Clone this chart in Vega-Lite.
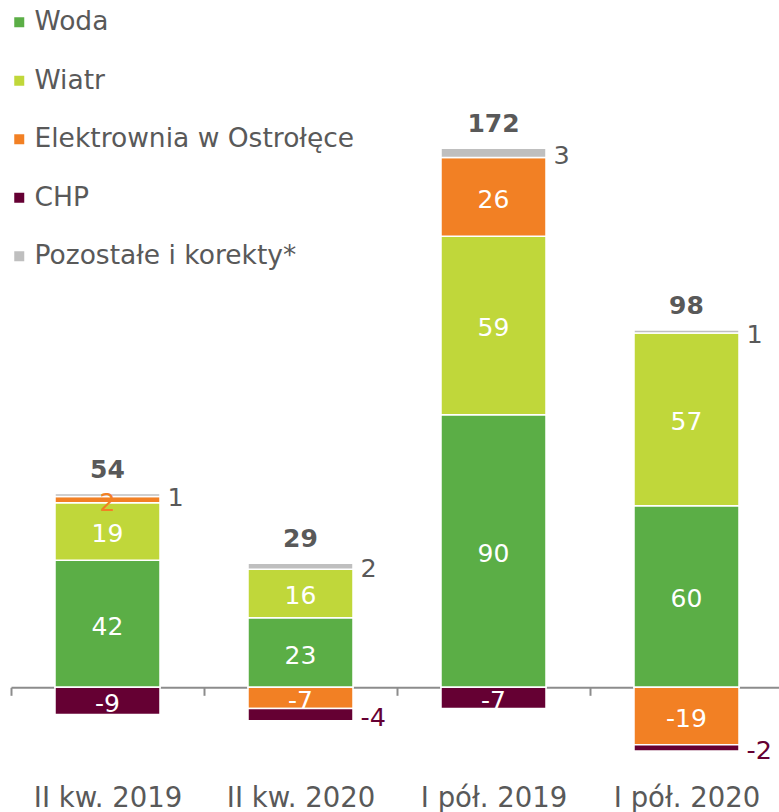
{
  "$schema": "https://vega.github.io/schema/vega-lite/v6.json",
  "autosize": {"type": "none"},
  "padding": {"left": 11, "top": 0, "right": 0, "bottom": 52},
  "width": 772,
  "height": 760,
  "background": "white",
  "config": {
    "view": {"stroke": null},
    "font": "DejaVu Sans",
    "text": {"font": "DejaVu Sans"}
  },
  "datasets": {
    "rows": [
      {"cat": "II kw. 2019", "series": "Woda", "value": 42},
      {"cat": "II kw. 2019", "series": "Wiatr", "value": 19},
      {"cat": "II kw. 2019", "series": "Elektrownia w Ostrołęce", "value": 2},
      {"cat": "II kw. 2019", "series": "CHP", "value": -9},
      {"cat": "II kw. 2019", "series": "Pozostałe i korekty*", "value": 1},
      {"cat": "II kw. 2020", "series": "Woda", "value": 23},
      {"cat": "II kw. 2020", "series": "Wiatr", "value": 16},
      {"cat": "II kw. 2020", "series": "Elektrownia w Ostrołęce", "value": -7},
      {"cat": "II kw. 2020", "series": "CHP", "value": -4},
      {"cat": "II kw. 2020", "series": "Pozostałe i korekty*", "value": 2},
      {"cat": "I pół. 2019", "series": "Woda", "value": 90},
      {"cat": "I pół. 2019", "series": "Wiatr", "value": 59},
      {"cat": "I pół. 2019", "series": "Elektrownia w Ostrołęce", "value": 26},
      {"cat": "I pół. 2019", "series": "CHP", "value": -7},
      {"cat": "I pół. 2019", "series": "Pozostałe i korekty*", "value": 3},
      {"cat": "I pół. 2020", "series": "Woda", "value": 60},
      {"cat": "I pół. 2020", "series": "Wiatr", "value": 57},
      {"cat": "I pół. 2020", "series": "Elektrownia w Ostrołęce", "value": -19},
      {"cat": "I pół. 2020", "series": "CHP", "value": -2},
      {"cat": "I pół. 2020", "series": "Pozostałe i korekty*", "value": 1}
    ],
    "totals": [
      {"cat": "II kw. 2019", "total": 54},
      {"cat": "II kw. 2020", "total": 29},
      {"cat": "I pół. 2019", "total": 172},
      {"cat": "I pół. 2020", "total": 98}
    ]
  },
  "data": {"name": "rows"},
  "transform": [
    {"calculate": "indexof(['Woda', 'Wiatr', 'Elektrownia w Ostrołęce', 'CHP', 'Pozostałe i korekty*'], datum.series)", "as": "stackOrder"}
  ],
  "encoding": {
    "x": {
      "field": "cat",
      "type": "nominal",
      "sort": ["II kw. 2019", "II kw. 2020", "I pół. 2019", "I pół. 2020"],
      "scale": {"paddingInner": 0.456, "paddingOuter": 0.228},
      "axis": {
        "title": null,
        "orient": "bottom",
        "offset": -72.7,
        "labelAngle": 0,
        "labelFont": "DejaVu Sans",
        "labelFontSize": 27.5,
        "labelColor": "#595959",
        "labelPadding": 89,
        "domainColor": "#8C8C8C",
        "domainWidth": 2,
        "tickColor": "#8C8C8C",
        "tickWidth": 2,
        "tickSize": 8,
        "tickOffset": -96.5,
        "labelOffset": 96.5
      }
    }
  },
  "layer": [
    {
      "mark": {"type": "bar", "stroke": "white", "strokeWidth": 1.5},
      "encoding": {
        "y": {
          "field": "value",
          "type": "quantitative",
          "stack": "zero",
          "scale": {"domain": [-24, 227], "nice": false, "zero": false},
          "axis": null
        },
        "order": {"field": "stackOrder", "type": "quantitative", "sort": "ascending"},
        "color": {
          "field": "series",
          "type": "nominal",
          "sort": ["Woda", "Wiatr", "Elektrownia w Ostrołęce", "CHP", "Pozostałe i korekty*"],
          "scale": {
            "domain": ["Woda", "Wiatr", "Elektrownia w Ostrołęce", "CHP", "Pozostałe i korekty*"],
            "range": ["#5BAE46", "#C0D73A", "#F28024", "#650033", "#BFBFBF"]
          },
          "legend": {
            "title": null,
            "orient": "none",
            "legendX": -5,
            "legendY": 9,
            "padding": 0,
            "symbolType": "square",
            "symbolSize": 100,
            "symbolStrokeWidth": 0,
            "labelOffset": 2,
            "labelFont": "DejaVu Sans",
            "labelFontSize": 26.5,
            "labelColor": "#595959",
            "labelLimit": 600,
            "rowPadding": 31.5
          }
        }
      }
    },
    {
      "mark": {"type": "text", "baseline": "middle", "align": "center", "fontSize": 25, "dy": 3},
      "encoding": {
        "y": {"field": "value", "type": "quantitative", "stack": "zero", "bandPosition": 0.5},
        "order": {"field": "stackOrder", "type": "quantitative", "sort": "ascending"},
        "color": {
          "field": "series",
          "type": "nominal",
          "sort": ["Woda", "Wiatr", "Elektrownia w Ostrołęce", "CHP", "Pozostałe i korekty*"],
          "legend": null
        },
        "fill": {
          "condition": {"test": "datum.value > 0 && datum.value < 5", "value": "#F28024"},
          "value": "white"
        },
        "text": {
          "field": "value",
          "type": "nominal",
          "condition": {
            "test": "datum.series === 'Pozostałe i korekty*' || (datum.series === 'CHP' && datum.value > -5)",
            "value": ""
          }
        }
      }
    },
    {
      "mark": {"type": "text", "baseline": "middle", "align": "left", "fontSize": 25.5, "dx": 60, "dy": 3},
      "encoding": {
        "y": {"field": "value", "type": "quantitative", "stack": "zero", "bandPosition": 0.5},
        "order": {"field": "stackOrder", "type": "quantitative", "sort": "ascending"},
        "color": {
          "field": "series",
          "type": "nominal",
          "sort": ["Woda", "Wiatr", "Elektrownia w Ostrołęce", "CHP", "Pozostałe i korekty*"],
          "legend": null
        },
        "fill": {
          "condition": {"test": "datum.series === 'CHP'", "value": "#650033"},
          "value": "#595959"
        },
        "text": {
          "field": "value",
          "type": "nominal",
          "condition": {
            "test": "!(datum.series === 'Pozostałe i korekty*' || (datum.series === 'CHP' && datum.value > -5))",
            "value": ""
          }
        }
      }
    },
    {
      "transform": [
        {"filter": "datum.value > 0"},
        {"aggregate": [{"op": "sum", "field": "value", "as": "pos"}], "groupby": ["cat"]},
        {"lookup": "cat", "from": {"data": {"name": "totals"}, "key": "cat", "fields": ["total"]}}
      ],
      "mark": {"type": "text", "baseline": "alphabetic", "align": "center", "fontSize": 25, "fontWeight": "bold", "color": "#595959", "dy": -16},
      "encoding": {
        "y": {"field": "pos", "type": "quantitative"},
        "text": {"field": "total", "type": "quantitative"}
      }
    }
  ]
}
